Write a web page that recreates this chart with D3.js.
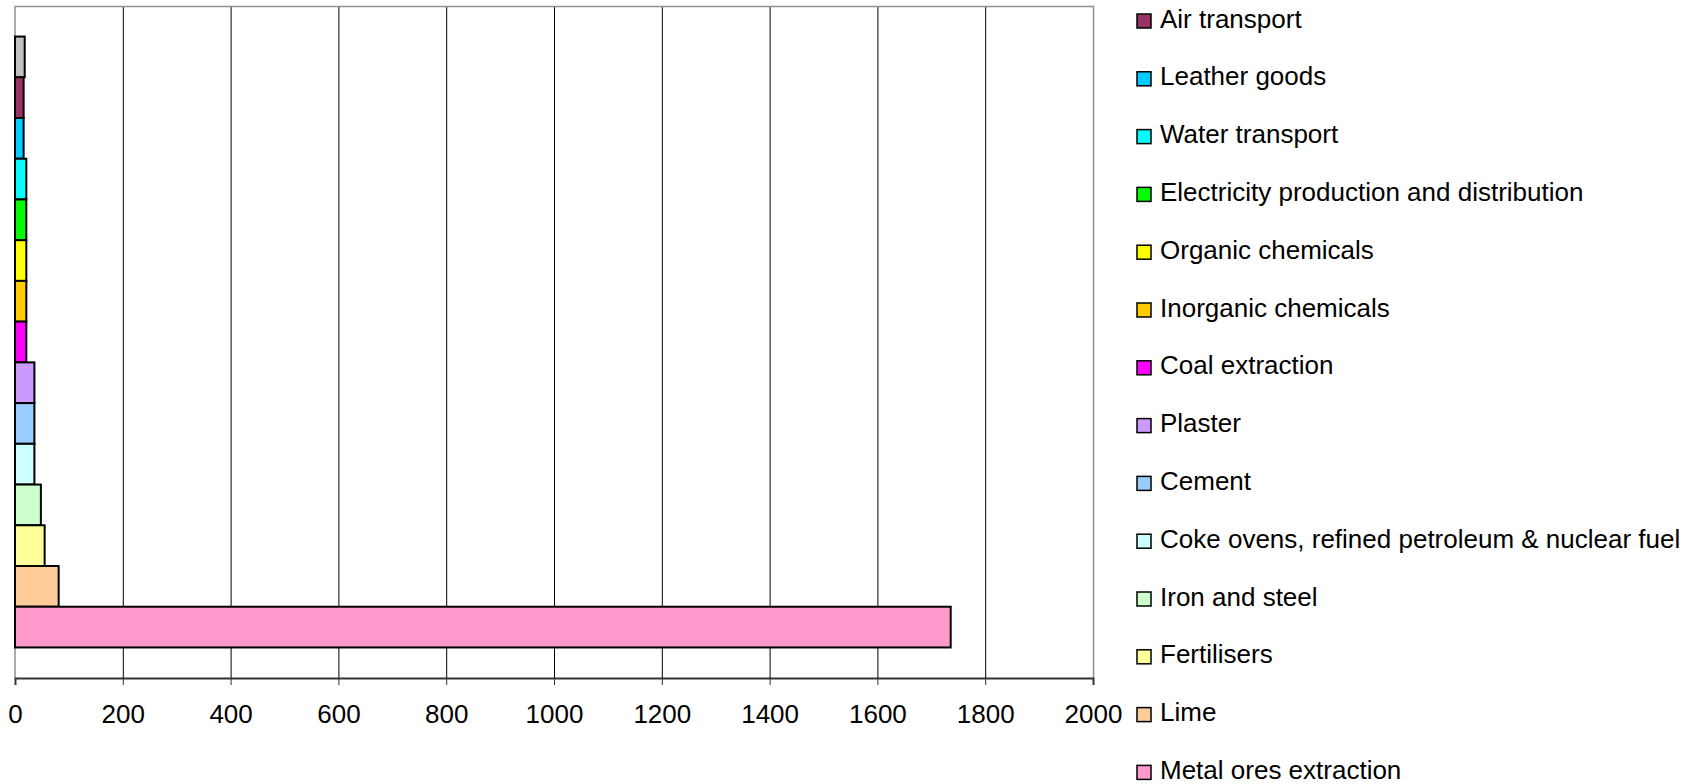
<!DOCTYPE html>
<html>
<head>
<meta charset="utf-8">
<script src="https://cdn.jsdelivr.net/npm/d3@7"></script>
<style>
  body { margin: 0; background: #fff; }
  svg { display: block; font-family: "Liberation Sans", Arial, sans-serif; }
</style>
</head>
<body>
<svg width="1690" height="784"></svg>
<script>
// one category, one bar per series, top to bottom as drawn
const series = [
  'Other', 'Air transport', 'Leather goods', 'Water transport',
  'Electricity production and distribution', 'Organic chemicals',
  'Inorganic chemicals', 'Coal extraction', 'Plaster', 'Cement',
  'Coke ovens, refined petroleum & nuclear fuel', 'Iron and steel',
  'Fertilisers', 'Lime', 'Metal ores extraction',
];
const values = [18, 16, 16, 21, 21, 21, 21, 21, 36, 36, 36, 48, 55, 81, 1736];
const colors = [
  '#C0C0C0', '#993366', '#00CCFF', '#00FFFF', '#00FF00', '#FFFF00',
  '#FFCC00', '#FF00FF', '#CC99FF', '#99CCFF', '#CCFFFF', '#CCFFCC',
  '#FFFF99', '#FFCC99', '#FF99CC',
];
const legendSeries = series.slice(1); // first entry is cut off in the original
const xTicks = d3.range(0, 2001, 200);

const svg = d3.select('svg');
const plot = {left: 15, right: 1093, top: 6, bottom: 678};

const x = d3.scaleLinear().domain([0, 2000]).range([plot.left, plot.right]);
const y = d3.scaleBand().domain(series)
  .range([plot.top, plot.bottom])
  .paddingInner(0).paddingOuter(0.75);
const color = d3.scaleOrdinal().domain(series).range(colors);

// gridlines
svg.append('g').selectAll('line')
  .data(xTicks.slice(1, -1))
  .join('line')
  .attr('x1', d => x(d) + 0.5).attr('x2', d => x(d) + 0.5)
  .attr('y1', plot.top).attr('y2', plot.bottom)
  .attr('stroke', '#000').attr('stroke-width', 1);

// plot frame (top/right/left in grey)
svg.append('path')
  .attr('d', `M${plot.left},${plot.bottom} V${plot.top + 0.5} H${plot.right + 0.5} V${plot.bottom}`)
  .attr('fill', 'none').attr('stroke', '#909090').attr('stroke-width', 1.5);

// bars
svg.append('g').selectAll('rect')
  .data(series.map((s, i) => ({s, v: values[i]})))
  .join('rect')
  .attr('x', x(0))
  .attr('y', d => y(d.s))
  .attr('width', d => x(d.v) - x(0))
  .attr('height', y.bandwidth())
  .attr('fill', d => color(d.s))
  .attr('stroke', '#000').attr('stroke-width', 2);

// x axis
const axis = svg.append('g')
  .attr('transform', `translate(0,${plot.bottom})`)
  .call(d3.axisBottom(x).tickValues(xTicks).tickSize(7).tickFormat(d3.format('d')));
axis.select('.domain').attr('stroke', '#333').attr('stroke-width', 2);
axis.selectAll('.tick line').attr('stroke', '#333').attr('stroke-width', 1);
axis.selectAll('.tick text')
  .attr('y', 45).attr('dy', null)
  .attr('font-size', '26px').attr('font-family', '"Liberation Sans", Arial, sans-serif')
  .attr('fill', '#000');

// legend
const legend = svg.append('g').selectAll('g')
  .data(legendSeries)
  .join('g')
  .attr('transform', (d, i) => `translate(1137,${14 + i * 57.8})`);
legend.append('rect')
  .attr('width', 14).attr('height', 14)
  .attr('fill', d => color(d))
  .attr('stroke', '#000').attr('stroke-width', 1.5);
legend.append('text')
  .attr('x', 23).attr('y', 13.5)
  .attr('font-size', '26px')
  .attr('fill', '#000')
  .text(d => d);
</script>
</body>
</html>
